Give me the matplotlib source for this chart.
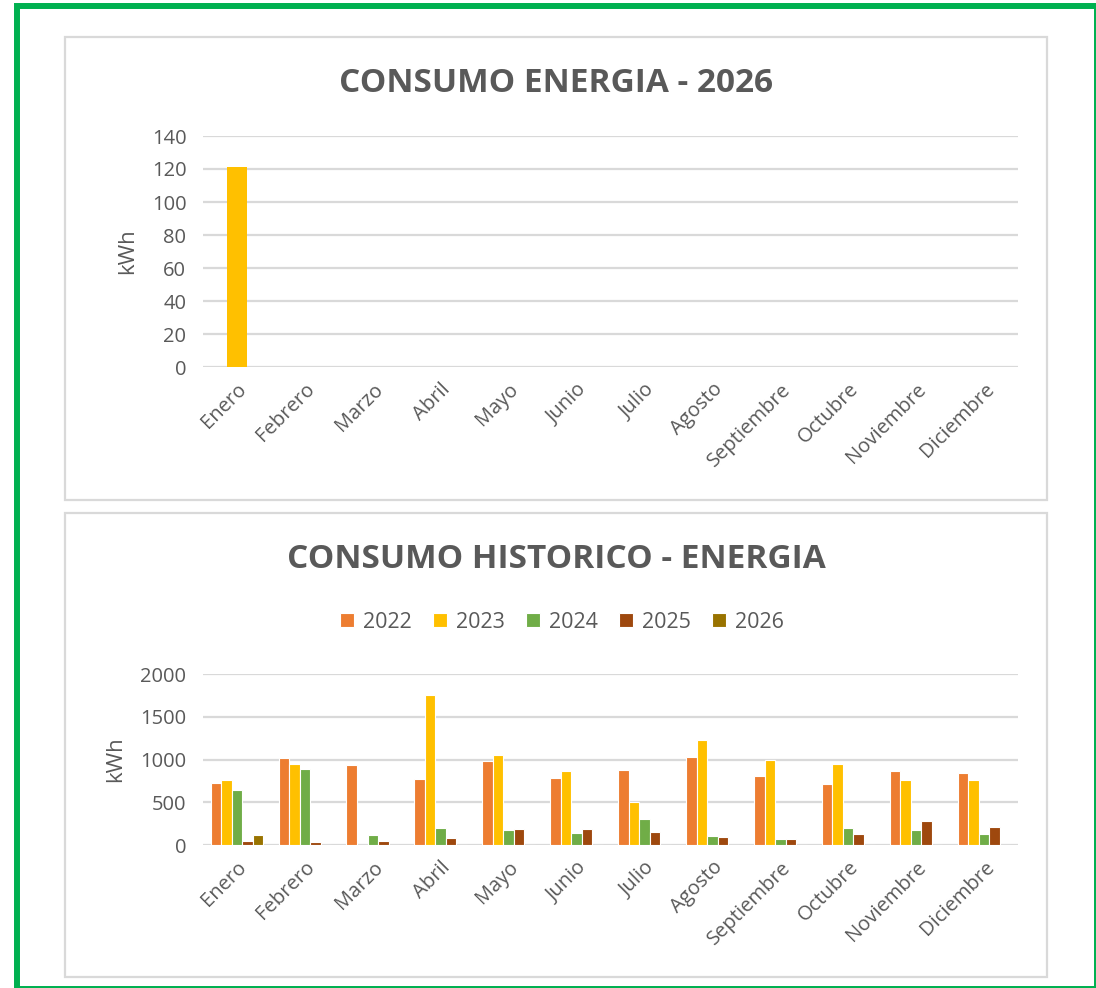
import matplotlib
matplotlib.use("Agg")
import matplotlib.pyplot as plt
import matplotlib.patches as mpatches
import numpy as np

months = ["Enero", "Febrero", "Marzo", "Abril", "Mayo", "Junio", "Julio",
          "Agosto", "Septiembre", "Octubre", "Noviembre", "Diciembre"]

consumo_2026_top = [121, 0, 0, 0, 0, 0, 0, 0, 0, 0, 0, 0]
top_yticks = [0, 20, 40, 60, 80, 100, 120, 140]

years = ["2022", "2023", "2024", "2025", "2026"]
h2022 = [728, 1014, 940, 775, 987, 787, 881, 1030, 803, 716, 865, 846]
h2023 = [760, 951, 0, 1754, 1057, 865, 501, 1225, 998, 951, 760, 760]
h2024 = [638, 893, 114, 204, 172, 141, 305, 110, 67, 204, 172, 125]
h2025 = [51, 35, 51, 82, 188, 188, 157, 94, 67, 125, 278, 215]
h2026 = [121, 0, 0, 0, 0, 0, 0, 0, 0, 0, 0, 0]
bottom_yticks = [0, 500, 1000, 1500, 2000]

colors = ["#ED7D31", "#FFC000", "#70AD47", "#9E480E", "#997300"]
TXT = "#595959"
GRID = "#d9d9d9"
FONT = ["Open Sans", "DejaVu Sans"]
plt.rcParams["font.family"] = FONT

W, H = 1096, 988
fig = plt.figure(figsize=(W / 100, H / 100), dpi=100)
fig.patch.set_facecolor("white")


def rect(x0, y0, x1, y1):
    return [x0 / W, 1 - y1 / H, (x1 - x0) / W, (y1 - y0) / H]


# green outer border
fig.patches.append(mpatches.Rectangle((16.5 / W, 1 - 988.5 / H), (1096.5 - 16.5) / W,
                                      (988.5 - 6.5) / H, transform=fig.transFigure,
                                      fill=False, edgecolor="#00B050", linewidth=4.3,
                                      zorder=-10))
# panel boxes
for (x0, y0, x1, y1) in [(65, 37, 1047, 500), (65, 513, 1047, 977)]:
    fig.patches.append(mpatches.Rectangle((x0 / W, 1 - y1 / H), (x1 - x0) / W, (y1 - y0) / H,
                                          transform=fig.transFigure, facecolor="white",
                                          edgecolor=GRID, linewidth=1.6, zorder=-10))


def style_axes(ax, yticks):
    ax.set_facecolor("none")
    for s in ax.spines.values():
        s.set_visible(False)
    ax.set_yticks(yticks)
    ax.set_ylim(yticks[0], yticks[-1])
    ax.yaxis.grid(True, color=GRID, linewidth=1.6)
    ax.set_axisbelow(True)
    ax.tick_params(axis="both", length=0, colors=TXT, labelsize=14.5)
    ax.tick_params(axis="y", pad=12)
    x = np.arange(len(months))
    ax.set_xticks(x)
    ax.set_xticklabels(months, rotation=45, ha="right", rotation_mode="anchor")
    ax.tick_params(axis="x", pad=9)
    ax.set_xlim(-0.5, len(months) - 0.5)
    ax.set_ylabel("kWh", color=TXT, fontsize=16, labelpad=10)


# top chart
ax1 = fig.add_axes(rect(203, 136, 1018, 367))
x = np.arange(len(months))
ax1.bar(x, consumo_2026_top, width=0.3, color="#FFC000")
style_axes(ax1, top_yticks)
fig.text(556 / W, 1 - 83 / H, "CONSUMO ENERGIA - 2026", ha="center", va="center",
         fontsize=24, fontweight="bold", color=TXT)

# bottom chart
ax2 = fig.add_axes(rect(203, 674, 1018, 845))
series = [h2022, h2023, h2024, h2025, h2026]
step = 0.155
for i, (yr, vals, c) in enumerate(zip(years, series, colors)):
    ax2.bar(x + (i - 2) * step, vals, width=step, color=c, edgecolor="white",
            linewidth=0.8, label=yr)
style_axes(ax2, bottom_yticks)
fig.text(556 / W, 1 - 559 / H, "CONSUMO HISTORICO - ENERGIA", ha="center", va="center",
         fontsize=24, fontweight="bold", color=TXT)
leg = ax2.legend(loc="center", bbox_to_anchor=(562 / W, 1 - 622 / H),
                 bbox_transform=fig.transFigure, ncol=5, frameon=False,
                 fontsize=15.5, handlelength=0.65, handleheight=0.65, handletextpad=0.4,
                 columnspacing=1.0)
for t in leg.get_texts():
    t.set_color(TXT)

fig.savefig("out.png", dpi=100)
